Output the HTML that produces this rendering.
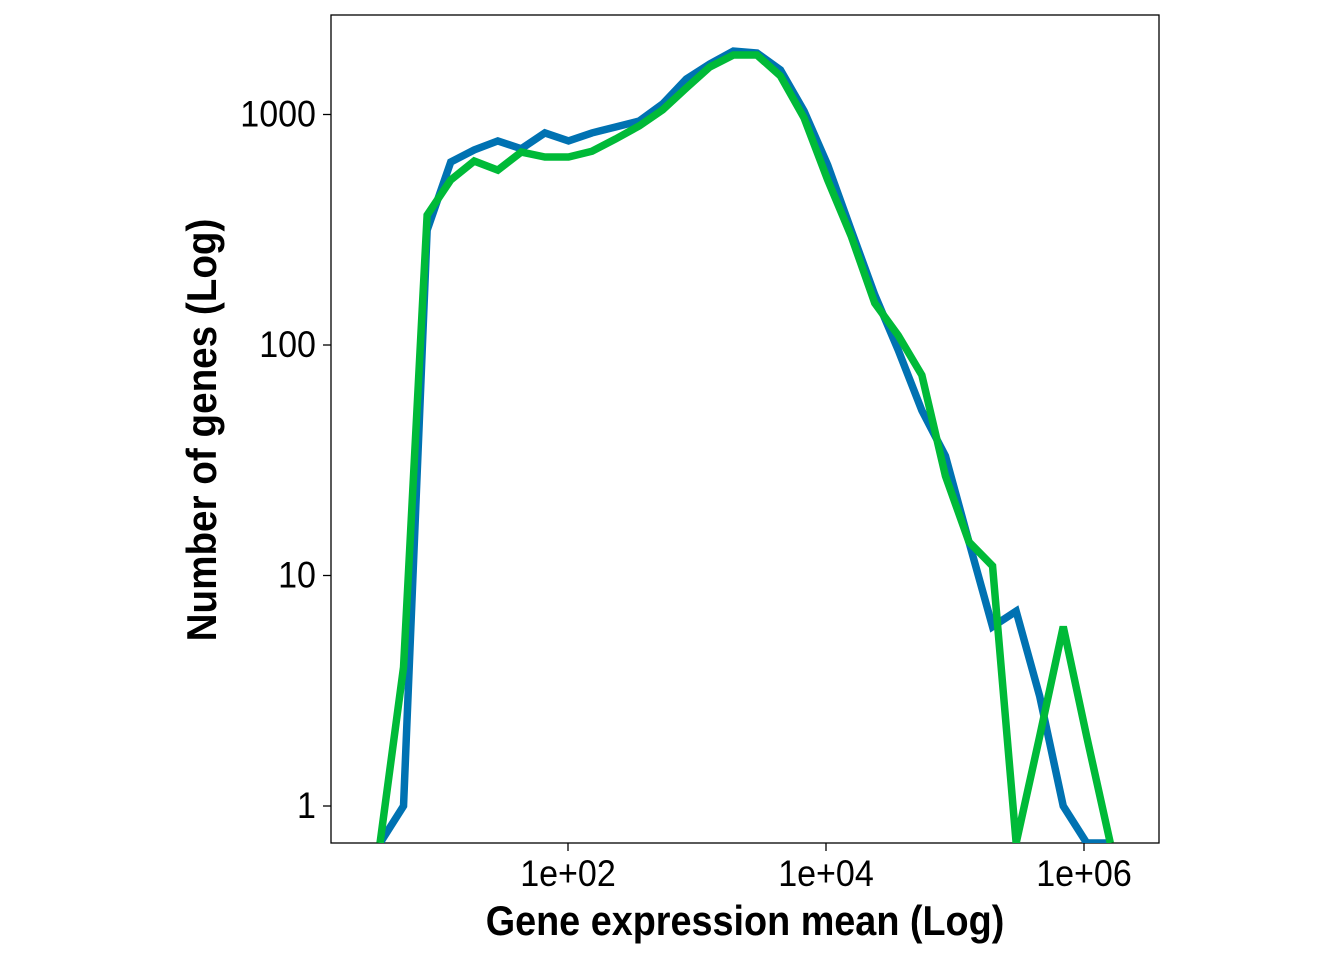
<!DOCTYPE html>
<html><head><meta charset="utf-8"><style>
html,body{margin:0;padding:0;background:#fff;}
svg text{font-family:"Liberation Sans Narrow","Liberation Sans",sans-serif;}
</style></head><body>
<svg width="1344" height="960" viewBox="0 0 1344 960" xmlns="http://www.w3.org/2000/svg">
<defs><clipPath id="pc"><rect x="331" y="15" width="828" height="828"/></clipPath></defs>
<rect x="331" y="15" width="828" height="828" fill="#fff" stroke="#000" stroke-width="1.3"/>
<g id="ticks"></g>
<g clip-path="url(#pc)" id="lines"></g>
<text x="745" y="935" text-anchor="middle" font-size="42" font-weight="bold" transform="translate(745 0) scale(0.9 1) translate(-745 0)">Gene expression mean (Log)</text>
<text x="0" y="0" text-anchor="middle" font-size="42" font-weight="bold" transform="translate(216 430) rotate(-90) scale(0.92 1)">Number of genes (Log)</text>
</svg>
<script>
const xTicks = [2, 4, 6];
const xTickLabels = ["1e+02", "1e+04", "1e+06"];
const yTicks = [1, 10, 100, 1000];
const yTickLabels = ["1", "10", "100", "1000"];
const xLog = [0.543,0.725,0.908,1.091,1.273,1.456,1.638,1.821,2.004,2.186,2.369,2.552,2.734,2.917,3.099,3.282,3.465,3.647,3.830,4.013,4.195,4.378,4.560,4.743,4.926,5.108,5.291,5.474,5.656,5.839,6.021,6.204];
const blueCounts = [0,1,315,622,702,768,710,832,768,832,883,937,1111,1426,1656,1884,1848,1560,1035,604,315,165,95,52,33,14,6,7,3,1,0,0];
const greenCounts = [0,4,366,520,628,574,687,654,654,693,783,892,1048,1303,1607,1811,1811,1469,966,520,297,152,110,74,27,14,11,0,2,6,2,0];
const NS="http://www.w3.org/2000/svg";
function xs(l){return 568+(l-2)*129;}
function ys(v){return v<=0?843:806-Math.log10(v)*230.5;}
const tg=document.getElementById('ticks');
xTicks.forEach((t,i)=>{
  const ln=document.createElementNS(NS,'line');
  ln.setAttribute('x1',xs(t));ln.setAttribute('x2',xs(t));ln.setAttribute('y1',843);ln.setAttribute('y2',851);
  ln.setAttribute('stroke','#000');ln.setAttribute('stroke-width','1.3');
  
  
  tg.appendChild(ln);
  const tx=document.createElementNS(NS,'text');
  tx.setAttribute('x',xs(t));tx.setAttribute('y',886);tx.setAttribute('text-anchor','middle');tx.setAttribute('font-size','37');
  tx.setAttribute('transform','translate('+xs(t)+' 0) scale(0.92 1) translate('+(-xs(t))+' 0)');
  tx.textContent=xTickLabels[i];
  
  
  tg.appendChild(tx);
});
yTicks.forEach((t,i)=>{
  const ln=document.createElementNS(NS,'line');
  ln.setAttribute('x1',323);ln.setAttribute('x2',331);ln.setAttribute('y1',ys(t));ln.setAttribute('y2',ys(t));
  ln.setAttribute('stroke','#000');ln.setAttribute('stroke-width','1.3');
  
  
  tg.appendChild(ln);
  const tx=document.createElementNS(NS,'text');
  tx.setAttribute('x',316);tx.setAttribute('y',ys(t)+12);tx.setAttribute('text-anchor','end');tx.setAttribute('font-size','37');
  tx.setAttribute('transform','translate(316 0) scale(0.92 1) translate(-316 0)');
  tx.textContent=yTickLabels[i];
  
  
  tg.appendChild(tx);
});
const lg=document.getElementById('lines');
function drawLine(counts,color,name){
  const p=document.createElementNS(NS,'polyline');
  p.setAttribute('points',counts.map((c,i)=>xs(xLog[i])+','+ys(c)).join(' '));
  p.setAttribute('fill','none');p.setAttribute('stroke',color);p.setAttribute('stroke-width','7.5');
  p.setAttribute('stroke-linejoin','miter');
  
  
  lg.appendChild(p);
}
drawLine(blueCounts,'#0072B2','blue-series-line');
drawLine(greenCounts,'#00BA38','green-series-line');
</script>
</body></html>
